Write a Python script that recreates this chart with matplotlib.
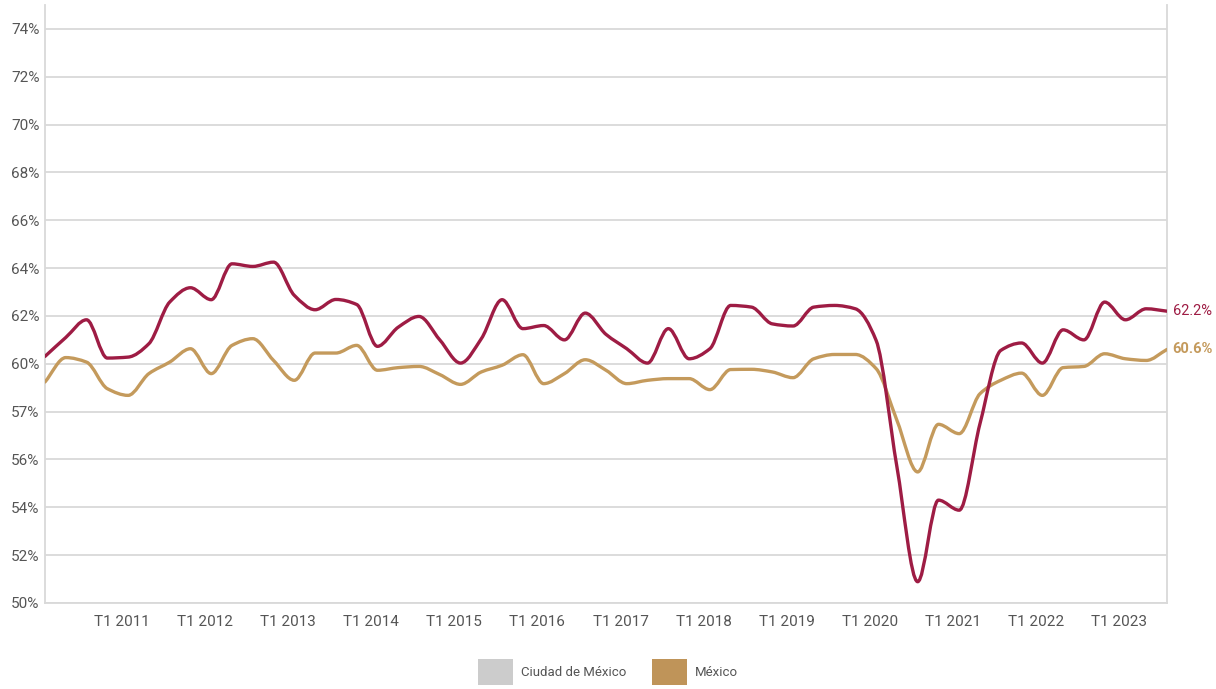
import matplotlib.pyplot as plt
import numpy as np
from matplotlib.path import Path
from matplotlib.patches import PathPatch, Patch

# trimestres T1 2010 .. T3 2023
periods = [f"T{q} {y}" for y in range(2010, 2024) for q in range(1, 5)][:55]

cdmx = [60.31, 61.1, 61.84, 60.24, 60.28, 60.84, 62.58, 63.18, 62.68, 64.18,
        64.07, 64.25, 62.86, 62.26, 62.69, 62.48, 60.73, 61.53, 61.98, 61.0,
        60.03, 61.05, 62.68, 61.47, 61.6, 61.0, 62.12, 61.23, 60.63, 60.03,
        61.47, 60.21, 60.63, 62.44, 62.37, 61.67, 61.58, 62.37, 62.44, 62.30,
        60.98, 55.7, 50.89, 54.3, 53.88, 57.5, 60.56, 60.87, 60.03, 61.42,
        61.0, 62.58, 61.84, 62.30, 62.2]

mexico = [59.24, 60.26, 60.07, 58.96, 58.68, 59.59, 60.07, 60.63, 59.59, 60.77,
          61.05, 60.14, 59.31, 60.45, 60.45, 60.77, 59.73, 59.84, 59.89, 59.55,
          59.14, 59.66, 59.94, 60.38, 59.17, 59.59, 60.17, 59.73, 59.17, 59.31,
          59.38, 59.38, 58.92, 59.76, 59.77, 59.66, 59.42, 60.21, 60.39, 60.39,
          59.8, 57.64, 55.48, 57.47, 57.08, 58.75, 59.31, 59.61, 58.68, 59.84,
          59.89, 60.42, 60.21, 60.14, 60.6]

yticks = [50, 52, 54, 56, 58, 60, 62, 64, 66, 68, 70, 72, 74]
ytick_labels = ["50%", "52%", "54%", "56%", "57%", "60%", "62%", "64%",
                "66%", "68%", "70%", "72%", "74%"]

RED = "#9E1C44"
TAN = "#C49A5C"
GRID = "#d9d9d9"
TXT = "#555555"


def monotone_path(x, y):
    # monotone cubic (Fritsch-Carlson) drawn as bezier segments
    x = np.asarray(x, float)
    y = np.asarray(y, float)
    h = np.diff(x)
    d = np.diff(y) / h
    m = np.zeros_like(y)
    m[0], m[-1] = d[0], d[-1]
    for k in range(1, len(y) - 1):
        if d[k - 1] * d[k] <= 0:
            m[k] = 0
        else:
            m[k] = 3 * (h[k - 1] + h[k]) / ((2 * h[k] + h[k - 1]) / d[k - 1] + (h[k] + 2 * h[k - 1]) / d[k])
    verts = [(x[0], y[0])]
    codes = [Path.MOVETO]
    for k in range(len(x) - 1):
        verts += [(x[k] + h[k] / 3, y[k] + m[k] * h[k] / 3),
                  (x[k + 1] - h[k] / 3, y[k + 1] - m[k + 1] * h[k] / 3),
                  (x[k + 1], y[k + 1])]
        codes += [Path.CURVE4] * 3
    return Path(verts, codes)


plt.rcParams['font.family'] = ['Liberation Sans Narrow', 'Roboto', 'DejaVu Sans']

fig = plt.figure(figsize=(12.16, 6.89), dpi=100)
ax = fig.add_axes([45 / 1216, 86 / 689, 1122 / 1216, 598 / 689])

xs = np.arange(len(periods))
ax.add_patch(PathPatch(monotone_path(xs, mexico), fill=False, edgecolor=TAN,
                       lw=2.4, capstyle='round', joinstyle='round', zorder=3))
ax.add_patch(PathPatch(monotone_path(xs, cdmx), fill=False, edgecolor=RED,
                       lw=2.4, capstyle='round', joinstyle='round', zorder=4))

ax.set_xlim(0, len(periods) - 1)
ax.set_ylim(50, 75)
ax.set_yticks(yticks)
ax.set_yticklabels(ytick_labels)
t1 = [i for i, p in enumerate(periods) if p.startswith("T1") and i > 0]
ax.set_xticks([i - 0.3 for i in t1])
ax.set_xticklabels([periods[i] for i in t1])
ax.tick_params(length=0, colors=TXT, labelsize=11)
ax.tick_params(axis='x', pad=9)
ax.tick_params(axis='y', pad=4)
ax.grid(axis='y', color=GRID, lw=1.3)
ax.set_axisbelow(True)
ax.spines['top'].set_visible(False)
for s in ['left', 'right', 'bottom']:
    ax.spines[s].set_color(GRID)
    ax.spines[s].set_linewidth(1.3)

ax.annotate("62.2%", (xs[-1], cdmx[-1]), xytext=(4, 0), textcoords='offset points',
            va='center', ha='left', color=RED, fontsize=10.5, annotation_clip=False)
ax.annotate("60.6%", (xs[-1], mexico[-1]), xytext=(4, 0), textcoords='offset points',
            va='center', ha='left', color=TAN, fontsize=10.5, fontweight='bold',
            annotation_clip=False)

handles = [Patch(facecolor="#cccccc", label="Ciudad de México"),
           Patch(facecolor="#BF9459", label="México")]
fig.legend(handles=handles, loc='center', bbox_to_anchor=(0.5, 0.025), ncol=2,
           frameon=False, fontsize=9.5, handlelength=2.6, handleheight=2.6,
           handletextpad=0.6, columnspacing=2.0, labelcolor=TXT)

fig.savefig("out.png", dpi=100)
